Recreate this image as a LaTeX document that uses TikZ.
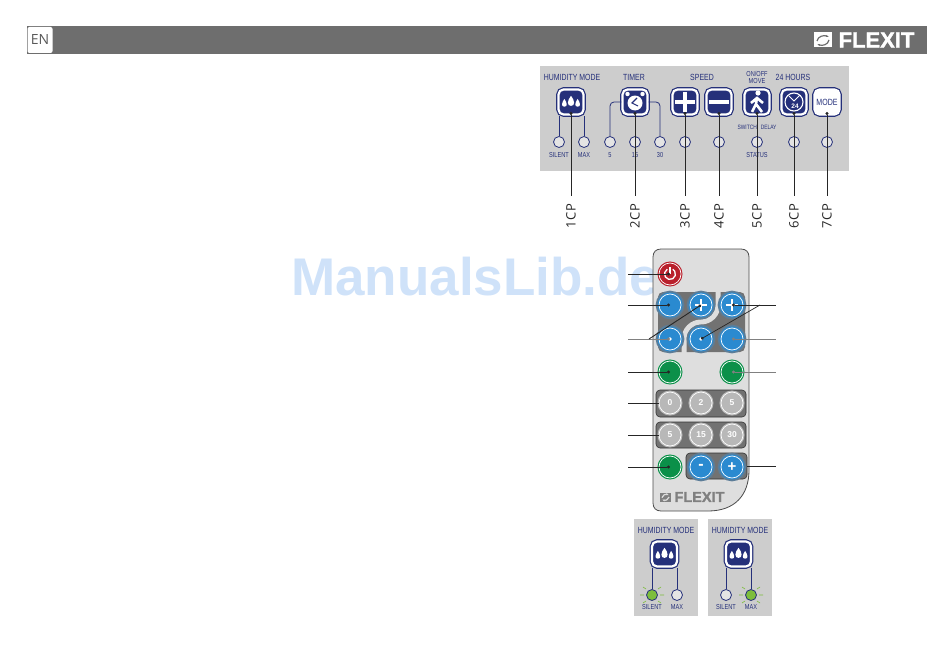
\documentclass[tikz,border=0pt]{standalone}
\usepackage{fontspec}
\setmainfont{Liberation Sans}
\newfontfamily\panelfont[FakeStretch=0.78]{Liberation Sans}
\newfontfamily\tagfont[LetterSpace=8]{Open Sans}
\newfontfamily\headfont{Open Sans}
\newfontfamily\brandfont[UprightFont=* Bold, FakeBold=1.6]{Liberation Sans}
\usetikzlibrary{arrows.meta, positioning}

\definecolor{navyblue}{HTML}{25307A}
\definecolor{barGray}{HTML}{6E6E6E}
\definecolor{panelGray}{HTML}{CDCDCD}
\definecolor{remoteGray}{HTML}{DEDEDE}
\definecolor{groupGray}{HTML}{727272}
\definecolor{keyBlue}{HTML}{2A8AD0}
\definecolor{ringBlue}{HTML}{5C7D98}
\definecolor{keyGreen}{HTML}{0B9049}
\definecolor{keyRed}{HTML}{B9202C}
\definecolor{keyGray}{HTML}{B8B8B8}
\definecolor{ledGreen}{HTML}{7DBE3C}
\definecolor{markBlue}{HTML}{CFE2F9}

\tikzset{
  panelbtn/.style={rectangle, rounded corners=5pt, minimum size=25pt, inner sep=0pt, fill=navyblue, draw=white, line width=2.2pt, preaction={draw=navyblue, line width=4.6pt}},
  modebtn/.style={panelbtn, fill=white, text=navyblue, font=\panelfont\fontsize{9}{9}\selectfont},
  led/.style={circle, minimum size=11pt, inner sep=0pt, fill=panelGray!55!white, draw=navyblue, line width=.8pt},
  litled/.style={led, fill=ledGreen, draw=navyblue},
  paneltext/.style={text=navyblue, inner sep=0pt, font=\panelfont\fontsize{8.9}{9}\selectfont},
  smalltext/.style={text=navyblue, inner sep=0pt, font=\panelfont\fontsize{7.2}{7.4}\selectfont},
  tagtext/.style={rotate=90, anchor=east, inner ysep=0pt, inner xsep=7pt, text=black!85, font=\tagfont\fontsize{13}{13}\selectfont},
  panelline/.style={draw=navyblue, line width=.8pt, rounded corners=4pt},
  leader/.style={draw=black!85, line width=.9pt, {Circle[length=3pt]}-},
  plainleader/.style={draw=black!85, line width=.7pt},
  key/.style={circle, minimum size=22pt, inner sep=0pt, text=white, font=\bfseries\fontsize{8.5}{8}\selectfont, draw=white, line width=.7pt},
  bluekey/.style={key, fill=keyBlue, preaction={draw=ringBlue, line width=6.6pt}, preaction={draw=keyBlue, line width=3pt}},
  greenkey/.style={key, fill=keyGreen, preaction={draw=keyGreen, line width=3pt}},
  redkey/.style={key, fill=keyRed, preaction={draw=keyRed, line width=3pt}},
  greykey/.style={key, fill=keyGray, preaction={draw=keyGray, line width=3pt}},
  groupbox/.style={rectangle, rounded corners=4pt, fill=groupGray, draw=black!80, line width=.6pt, inner sep=0pt},
  icon/.style={white, line width=1.1pt},
  pics/drops/.style={code={
      \fill[white] (-8.5,6) .. controls (-13,6) and (-12,1) .. (-8.5,-4) .. controls (-5,1) and (-4,6) .. cycle;
      \fill[white] (0,5) .. controls (-5.5,5) and (-5,-2) .. (0,-8) .. controls (5,-2) and (5.5,5) .. cycle;
      \fill[white] (8.5,6) .. controls (4,6) and (5,1) .. (8.5,-4) .. controls (12,1) and (13,6) .. cycle;
  }},
  pics/flexlogo/.style n args={2}{code={
      \fill[#1] (-9,-7.5) rectangle (9,7.5);
      \draw[#2, line width=1.2pt, -{Latex[length=3pt]}] (-6,1) .. controls (-5,-4) and (1,-5) .. (6,-3);
      \draw[#2, line width=1.2pt, -{Latex[length=3pt]}] (6,0) .. controls (5,5) and (-1,6) .. (-6,4);
  }}
}

\begin{document}
\begin{tikzpicture}[x=1pt, y=-1pt]
  \useasboundingbox (0,0) rectangle (950,661);

  % header
  \node[rectangle, fill=barGray, minimum width=900pt, minimum height=28pt, inner sep=0pt] (bar) at (477,40) {};
  \node[rectangle, rounded corners=2pt, fill=white, minimum width=25pt, minimum height=26pt, inner sep=0pt, text=black!65, font=\headfont\fontsize{14}{14}\selectfont] (lang) at (40,40) {EN};
  \node[inner sep=0pt, text=white, font=\brandfont\fontsize{22}{22}\selectfont] (brand) at (876.5,40) {FLEXIT};
  \pic at (823,40) {flexlogo={white}{barGray}};

  % watermark
  \node[inner sep=0pt, anchor=west, text=markBlue, font=\bfseries\fontsize{53}{53}\selectfont] (mark) at (291,277) {ManualsLib.de};

  % panel
  \node[rectangle, fill=panelGray, minimum width=309pt, minimum height=104pt, inner sep=0pt] (panel) at (694.5,118.5) {};

  \node[panelbtn] (humid) at (571,102) {};
  \node[panelbtn] (timer) at (635,102) {};
  \node[panelbtn] (plus) at (685,102) {};
  \node[panelbtn] (minus) at (719,102) {};
  \node[panelbtn] (move) at (757,102) {};
  \node[panelbtn] (day) at (794,102) {};
  \node[modebtn] (mode) at (827,102) {MODE};

  \pic[scale=.78] at (571,102) {drops};
  \fill[white] (635,103) circle (7.5pt) (627.5,94) circle (2.2pt) (642.5,94) circle (2.2pt);
  \draw[navyblue, line width=1.1pt] (637,98) -- (632,103) -- (638,106);
  \draw[white, line width=4.6pt] (675,102) -- (695,102) (685,92) -- (685,112);
  \draw[white, line width=4.6pt] (709,102) -- (729,102);
  \fill[white] (758,93) circle (2.6pt);
  \draw[white, line width=2.6pt] (757,97) -- (756,104) -- (752,112) (756,104) -- (762,112) (751,103) -- (757,98) -- (763,103);
  \draw[icon] (794,102) circle (9pt);
  \draw[white, line width=1pt] (789,96) -- (794,101) -- (800,95);
  \node[inner sep=0pt, text=white, font=\bfseries\fontsize{6.5}{6}\selectfont] (daytext) at (795,106) {24};

  \node[led] (silent) at (559,142) {};
  \node[led] (maxled) at (584,142) {};
  \node[led] (five) at (610,142) {};
  \node[led] (fifteen) at (635,142) {};
  \node[led] (thirty) at (660,142) {};
  \node[led] (speedup) at (685,142) {};
  \node[led] (speeddn) at (719,142) {};
  \node[led] (status) at (757,142) {};
  \node[led] (dayled) at (794,142) {};
  \node[led] (modeled) at (827,142) {};

  \node[paneltext] (thumid) at (572,77) {HUMIDITY MODE};
  \node[paneltext] (ttimer) at (634,77) {TIMER};
  \node[paneltext] (tspeed) at (702,77) {SPEED};
  \node[smalltext, align=center] (tmove) at (757,77.5) {ON/OFF\\[-.5pt]MOVE};
  \node[paneltext] (tday) at (793,77) {24 HOURS};
  \node[smalltext, font=\panelfont\fontsize{6.3}{7}\selectfont] (tswitch) at (757,127) {SWITCH\hspace{2.5pt} DELAY};
  \node[smalltext, below=4pt of silent] (tsilent) {SILENT};
  \node[smalltext, below=4pt of maxled] (tmax) {MAX};
  \node[smalltext, below=4pt of five] (tfive) {5};
  \node[smalltext, below=4pt of fifteen] (tfifteen) {15};
  \node[smalltext, below=4pt of thirty] (tthirty) {30};
  \node[smalltext, below=4pt of status] (tstatus) {STATUS};

  \draw[panelline] (silent) -- (silent |- humid.south);
  \draw[panelline] (maxled) -- (maxled |- humid.south);
  \draw[panelline] (timer.west) -| (five);
  \draw[panelline] (timer.east) -| (thirty);

  \node[tagtext] (cp1) at (571,196) {1CP};
  \node[tagtext] (cp2) at (635,196) {2CP};
  \node[tagtext] (cp3) at (685,196) {3CP};
  \node[tagtext] (cp4) at (719,196) {4CP};
  \node[tagtext] (cp5) at (757,196) {5CP};
  \node[tagtext] (cp6) at (794,196) {6CP};
  \node[tagtext] (cp7) at (827,196) {7CP};

  \draw[leader] ([yshift=-10pt]humid.center) -- (cp1.east);
  \draw[leader] ([yshift=-10pt]timer.center) -- (cp2.east);
  \draw[leader] ([yshift=-10pt]plus.center) -- (cp3.east);
  \draw[leader] ([yshift=-10pt]minus.center) -- (cp4.east);
  \draw[leader] ([yshift=-10pt]move.center) -- (cp5.east);
  \draw[leader] ([yshift=-10pt]day.center) -- (cp6.east);
  \draw[leader] ([yshift=-10pt]mode.center) -- (cp7.east);

  % remote
  \draw[fill=remoteGray, draw=black!70, line width=.8pt] (661,249) -- (741,249) .. controls (746,249) and (749,252) .. (749,257) -- (749,470) .. controls (749,495) and (735,511) .. (708,511) -- (661,511) .. controls (656,511) and (653,508) .. (653,503) -- (653,257) .. controls (653,252) and (656,249) .. (661,249) -- cycle;

  \node[rectangle, rounded corners=5pt, fill=groupGray, minimum width=87pt, minimum height=60pt, inner sep=0pt] (fangroup) at (701.5,322) {};
  \draw[remoteGray, line width=5pt] (718,290) -- (718,305) arc[start angle=0, end angle=-90, radius=17pt] arc[start angle=90, end angle=180, radius=17pt] -- (684,354);
  \node[groupbox, minimum width=90pt, minimum height=27pt] (rowa) at (701,403.5) {};
  \node[groupbox, minimum width=90pt, minimum height=26pt] (rowb) at (701,435) {};
  \node[groupbox, minimum width=61pt, minimum height=26pt] (rowc) at (716.5,466) {};

  \node[redkey] (power) at (670,274) {};
  \draw[white, line width=1.3pt] (667.25,269.24) arc[start angle=120, end angle=420, radius=5.5pt];
  \draw[white, line width=1.3pt] (670,267) -- (670,274);
  \node[bluekey] (fanA) at (670,305) {};
  \node[bluekey] (fanB) at (701,305) {};
  \node[bluekey] (fanC) at (732,305) {};
  \node[bluekey] (fanD) at (670,339) {};
  \node[bluekey] (fanE) at (701,339) {};
  \node[bluekey] (fanF) at (732,339) {};
  \draw[white, line width=1.2pt] (695,305) -- (707,305) (701,299) -- (701,311);
  \draw[white, line width=1.2pt] (726,305) -- (738,305) (732,299) -- (732,311);
  \fill[white] (670,339) circle (1.8pt) (701,339) circle (1.8pt);
  \node[greenkey] (greenA) at (670,372) {};
  \node[greenkey] (greenB) at (732,372) {};
  \node[greykey] (kayA) at (670,403) {0};
  \node[greykey] (kayB) at (701,403) {2};
  \node[greykey] (kayC) at (732,403) {5};
  \node[greykey] (kayD) at (670,435) {5};
  \node[greykey] (kayE) at (701,435) {15};
  \node[greykey] (kayF) at (732,435) {30};
  \node[greenkey] (greenC) at (670,467) {};
  \node[bluekey, font=\bfseries\fontsize{16}{16}\selectfont] (keyminus) at (701,467) {-};
  \node[bluekey, font=\bfseries\fontsize{15}{15}\selectfont] (keyplus) at (732,467) {+};

  \pic[scale=.6] at (665.5,497) {flexlogo={black!50}{remoteGray}};
  \node[inner sep=0pt, text=black!50, font=\brandfont\fontsize{14.5}{15}\selectfont] (brandb) at (699.5,497) {FLEXIT};

  % leaders of the remote
  \coordinate (la) at (628,274);
  \coordinate (lb) at (628,305);
  \coordinate (lc) at (628,339);
  \coordinate (ld) at (628,372);
  \coordinate (le) at (628,403);
  \coordinate (lf) at (628,435);
  \coordinate (lg) at (628,467);
  \coordinate (ra) at (776,305);
  \coordinate (rb) at (776,339);
  \coordinate (rc) at (776,372);
  \coordinate (rd) at (776,466);
  \coordinate (bendl) at (649,339);
  \coordinate (bendr) at (760,305);

  \draw[leader] (power.center) -- (la);
  \draw[leader] (fanA.center) -- (lb);
  \draw[leader, draw=black!50] (fanD.center) -- (lc);
  \draw[leader] (fanB.center) -- (bendl);
  \draw[leader] (greenA.center) -- (ld);
  \draw[plainleader] (kayA.west) -- (le);
  \draw[plainleader] (kayD.west) -- (lf);
  \draw[leader] (greenC.center) -- (lg);
  \draw[leader, line width=.7pt] (fanC.center) -- (ra);
  \draw[leader, line width=.7pt] (fanE.center) -- (bendr);
  \draw[leader, draw=black!50] (fanF.center) -- (rb);
  \draw[leader, draw=black!50] (greenB.center) -- (rc);
  \draw[plainleader] (rowc.east) -- (rd);

  % state panels
  \node[rectangle, fill=panelGray, minimum width=64pt, minimum height=97pt, inner sep=0pt] (panelA) at (666,567.5) {};
  \node[rectangle, fill=panelGray, minimum width=64pt, minimum height=97pt, inner sep=0pt] (panelB) at (740,567.5) {};

  \node[paneltext] (titleA) at (666,530) {HUMIDITY MODE};
  \node[paneltext] (titleB) at (740,530) {HUMIDITY MODE};
  \node[panelbtn] (humidA) at (664.5,554) {};
  \node[panelbtn] (humidB) at (738.5,554) {};
  \pic[scale=.78] at (664.5,554) {drops};
  \pic[scale=.78] at (738.5,554) {drops};

  \draw[ledGreen, line width=.6pt] (652,595) +(-12,0) -- +(-8,0) +(8,0) -- +(12,0) +(-9,-8) -- +(-6,-6) +(9,-8) -- +(6,-6) +(-9,8) -- +(-6,6) +(9,8) -- +(6,6);
  \draw[ledGreen, line width=.6pt] (751,595) +(-12,0) -- +(-8,0) +(8,0) -- +(12,0) +(-9,-8) -- +(-6,-6) +(9,-8) -- +(6,-6) +(-9,8) -- +(-6,6) +(9,8) -- +(6,6);
  \node[litled] (silentA) at (652,595) {};
  \node[led] (maxA) at (677,595) {};
  \node[led] (silentB) at (726,595) {};
  \node[litled] (maxB) at (751,595) {};

  \node[smalltext, below=3pt of silentA] (capA) {SILENT};
  \node[smalltext, below=3pt of maxA] (capB) {MAX};
  \node[smalltext, below=3pt of silentB] (capC) {SILENT};
  \node[smalltext, below=3pt of maxB] (capD) {MAX};

  \draw[panelline] (silentA) -- (silentA |- humidA.south);
  \draw[panelline] (maxA) -- (maxA |- humidA.south);
  \draw[panelline] (silentB) -- (silentB |- humidB.south);
  \draw[panelline] (maxB) -- (maxB |- humidB.south);
\end{tikzpicture}
\end{document}
